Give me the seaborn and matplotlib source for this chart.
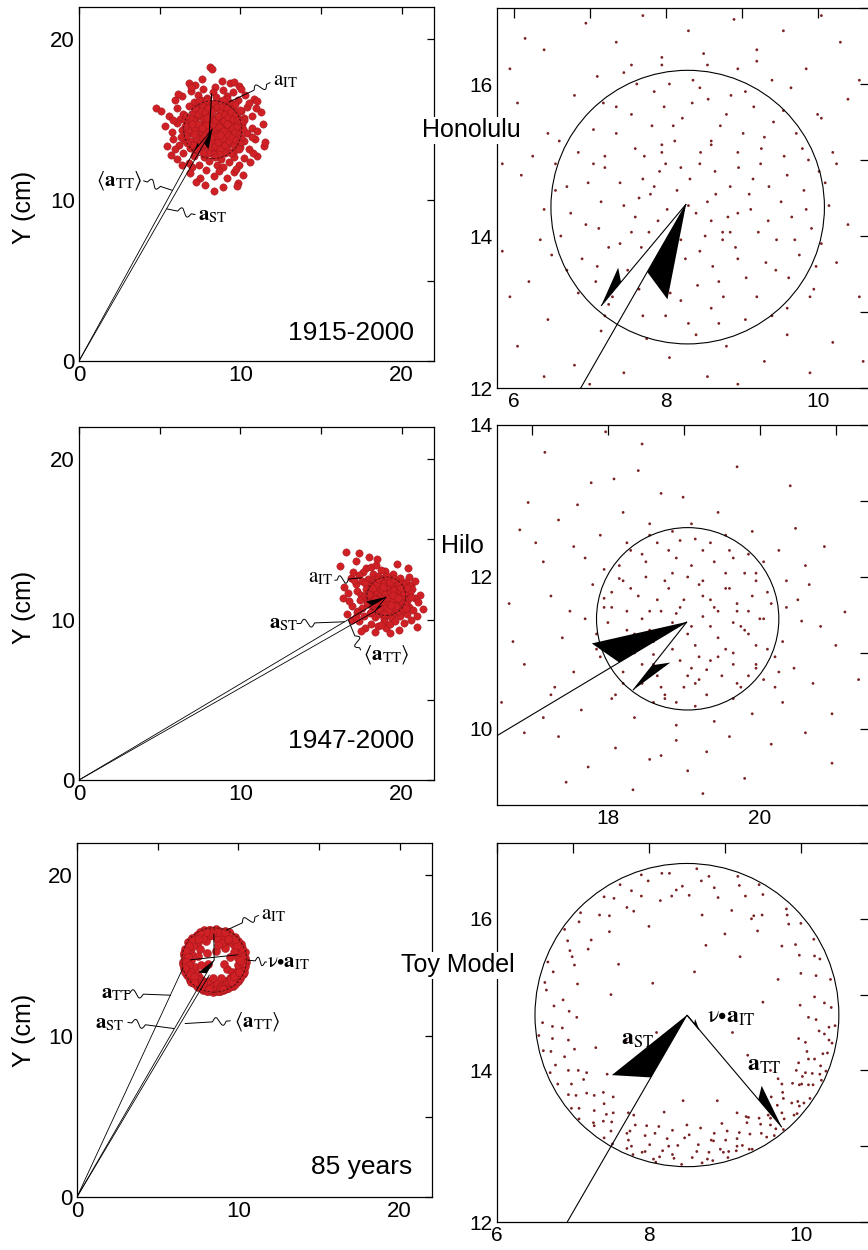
import numpy as np
import matplotlib
matplotlib.use("Agg")
import matplotlib.pyplot as plt
import seaborn as sns
from matplotlib.ticker import MultipleLocator
from matplotlib.patches import Circle

sns.set_theme(style="white")
plt.rcParams["font.family"] = ["Liberation Sans", "DejaVu Sans"]
plt.rcParams["mathtext.fontset"] = "stix"

# ---------------- data (cm) ----------------
honolulu_xy = [
    (8.10, 18.28), (8.22, 18.15), (7.65, 17.55), (8.85, 17.40), (9.35, 17.25), (7.20, 17.15), (8.40, 17.05),
    (9.90, 17.10), (6.80, 17.30),
    (6.40, 16.45), (6.95, 16.80), (7.35, 16.55), (7.70, 16.90), (7.95, 16.35), (8.30, 16.70), (8.55, 16.25),
    (8.90, 16.85), (9.20, 16.45), (9.55, 16.70), (9.85, 16.20), (10.30, 16.55), (10.85, 16.30), (11.05, 16.15),
    (7.10, 16.10), (8.05, 16.00), (9.40, 16.05), (5.95, 16.20), (10.05, 16.90), (7.55, 16.25),
    (4.80, 15.70), (5.10, 15.55), (5.60, 15.20), (6.05, 15.75), (6.45, 15.35), (6.80, 15.85), (7.05, 15.40),
    (7.35, 15.70), (7.60, 15.15), (7.85, 15.90), (8.10, 15.45), (8.35, 15.75), (8.60, 15.25), (8.80, 15.60),
    (9.05, 15.90), (9.30, 15.30), (9.55, 15.65), (9.80, 15.15), (10.05, 15.55), (10.40, 15.80), (10.70, 15.25),
    (11.30, 15.45), (7.20, 15.05), (8.95, 15.10), (6.25, 15.05), (9.65, 15.95), (7.95, 15.20), (8.45, 15.95),
    (10.20, 15.10),
    (5.30, 14.60), (5.75, 14.25), (6.10, 14.80), (6.40, 14.35), (6.70, 14.65), (6.95, 14.15), (7.20, 14.90),
    (7.45, 14.40), (7.70, 14.75), (7.90, 14.20), (8.15, 14.60), (8.40, 14.30), (8.65, 14.85), (8.85, 14.05),
    (9.10, 14.55), (9.35, 14.20), (9.60, 14.80), (9.85, 14.35), (10.10, 14.70), (10.40, 14.15), (10.75, 14.50),
    (11.40, 14.70), (8.00, 14.95), (8.55, 14.45), (9.25, 14.95), (7.55, 14.05), (6.55, 14.95), (10.25, 14.95),
    (11.05, 14.30), (8.30, 14.40), (8.60, 14.20), (7.80, 14.55), (8.85, 14.65), (8.20, 14.90),
    (5.45, 13.35), (5.85, 13.80), (6.20, 13.40), (6.50, 13.75), (6.85, 13.25), (7.10, 13.60), (7.40, 13.90),
    (7.65, 13.30), (7.90, 13.65), (8.20, 13.15), (8.45, 13.80), (8.70, 13.40), (8.95, 13.70), (9.20, 13.20),
    (9.45, 13.55), (9.70, 13.95), (9.95, 13.30), (10.25, 13.65), (10.55, 13.20), (10.90, 13.80), (11.45, 13.35),
    (11.50, 13.60), (8.60, 13.05), (7.25, 13.10), (9.60, 13.05), (6.35, 13.95), (10.70, 13.95), (8.10, 13.90),
    (8.75, 13.95),
    (6.05, 12.55), (6.45, 12.90), (6.80, 12.30), (7.15, 12.75), (7.45, 12.20), (7.75, 12.65), (8.05, 12.40),
    (8.30, 12.85), (8.55, 12.15), (8.80, 12.55), (9.05, 12.90), (9.30, 12.35), (9.60, 12.70), (9.90, 12.20),
    (10.20, 12.60), (10.60, 12.35), (7.00, 12.05), (8.95, 12.05), (5.70, 12.80), (11.00, 12.75),
    (6.90, 11.70), (7.50, 11.40), (7.90, 11.85), (8.35, 11.50), (8.70, 11.80), (9.20, 11.35), (9.60, 11.75),
    (10.15, 11.55), (7.25, 11.15), (9.85, 11.05), (9.80, 10.90),
    (8.35, 10.55), (8.90, 10.80), (7.80, 10.95),
    (7.05, 14.95), (7.15, 14.45), (7.25, 13.85), (7.35, 15.35), (7.40, 14.70), (7.50, 13.55), (7.55, 15.60),
    (7.60, 14.25), (7.62, 16.00), (7.68, 13.85), (7.72, 15.05), (7.78, 14.05), (7.82, 15.45), (7.88, 13.45),
    (7.92, 14.85), (7.98, 15.70), (8.02, 14.35), (8.06, 13.25), (8.12, 15.25), (8.16, 14.10), (8.22, 15.55),
    (8.26, 13.70), (8.32, 14.75), (8.36, 16.05), (8.42, 13.35), (8.46, 15.10), (8.52, 14.00), (8.56, 15.80),
    (8.62, 13.60), (8.66, 14.55), (8.72, 15.45), (8.76, 13.20), (8.82, 14.25), (8.86, 15.85), (8.92, 13.85),
    (8.96, 14.90), (9.02, 15.35), (9.06, 13.45), (9.12, 14.35), (9.16, 15.70), (9.22, 14.05), (9.26, 15.15),
    (9.32, 13.65), (9.36, 14.65), (9.42, 15.50), (9.46, 13.95), (9.52, 14.45), (9.56, 15.05), (9.62, 13.45),
    (9.66, 14.25), (9.72, 15.35), (9.76, 13.75), (9.82, 14.60), (9.88, 15.00), (9.92, 14.10), (9.98, 13.60),
    (10.02, 14.85), (6.75, 14.30), (6.85, 15.10), (6.90, 13.70), (6.98, 14.70), (7.08, 13.40), (7.18, 15.75),
    (7.30, 13.20), (7.45, 16.15), (7.12, 14.10), (6.62, 14.00), (6.60, 15.25), (10.00, 15.60), (9.90, 13.20),
    (9.20, 16.30), (8.00, 12.95), (8.70, 12.85), (7.70, 12.95), (8.95, 16.20), (7.95, 16.25), (8.50, 16.40),
    (8.40, 12.70), (9.40, 12.95), (7.20, 12.95), (10.15, 14.40), (6.70, 13.55), (6.55, 14.60), (10.05, 13.90),
    (7.85, 14.65), (8.45, 14.95), (8.95, 14.30), (7.65, 14.50), (9.15, 14.75), (8.20, 13.95), (8.75, 14.05),
    (7.95, 15.10), (8.60, 15.20),
    (5.95, 13.20), (6.15, 16.60), (10.55, 16.05), (10.80, 12.90), (6.40, 12.15), (9.75, 11.95), (5.85, 14.95),
    (10.95, 15.70), (6.95, 17.05), (9.60, 17.35),
]

hilo_xy = [
    (16.52, 14.18), (17.35, 14.12), (17.97, 13.91), (17.17, 13.64), (16.15, 13.35), (17.78, 13.24), (18.08, 13.29),
    (18.99, 13.05), (18.40, 13.40), (18.70, 13.10),
    (16.84, 12.62), (17.60, 12.95), (18.20, 12.85), (17.35, 12.75), (17.90, 12.55), (18.55, 12.70), (19.45, 12.85),
    (20.47, 12.64), (19.90, 12.60), (16.95, 12.98), (18.85, 12.60),
    (17.15, 12.20), (17.55, 12.40), (17.95, 12.10), (18.25, 12.45), (18.50, 12.20), (18.80, 12.35), (19.10, 12.15),
    (19.35, 12.45), (19.65, 12.25), (19.95, 12.05), (20.25, 12.35), (20.60, 12.15), (17.70, 12.25), (18.95, 12.48),
    (19.55, 12.05),
    (16.70, 11.65), (17.25, 11.75), (17.50, 11.55), (17.80, 11.90), (18.05, 11.60), (18.30, 11.85), (18.55, 11.55),
    (18.75, 11.95), (19.00, 11.70), (19.20, 11.90), (19.40, 11.60), (19.60, 11.85), (19.85, 11.55), (20.10, 11.80),
    (20.35, 11.60), (20.65, 11.90), (21.12, 11.54), (18.15, 11.98), (19.70, 11.65), (18.90, 11.52), (17.95, 11.72),
    (20.50, 11.70), (19.25, 11.75), (18.65, 11.70),
    (16.35, 11.35), (17.40, 11.20), (17.70, 11.45), (18.00, 11.05), (18.25, 11.30), (18.60, 11.15), (18.85, 11.40),
    (19.15, 11.10), (19.35, 11.35), (19.55, 11.05), (19.80, 11.30), (20.05, 11.45), (20.30, 11.15), (20.80, 11.35),
    (21.00, 11.10), (18.45, 11.45), (19.95, 11.10), (17.85, 11.25), (19.25, 11.48), (20.55, 11.42), (19.05, 11.25),
    (19.65, 11.40),
    (16.90, 10.85), (17.55, 10.75), (17.90, 10.95), (18.20, 10.60), (18.45, 10.85), (18.70, 10.55), (18.95, 10.90),
    (19.20, 10.65), (19.45, 10.95), (19.70, 10.60), (19.95, 10.85), (20.20, 10.55), (20.45, 10.80), (20.70, 10.60),
    (18.60, 10.98), (19.30, 10.78), (19.85, 10.70), (17.30, 10.55), (19.10, 10.80),
    (17.65, 10.25), (18.05, 10.40), (18.35, 10.15), (18.60, 10.35), (18.90, 10.05), (19.15, 10.30), (19.40, 10.10),
    (19.65, 10.40), (19.90, 10.20), (20.30, 10.35), (20.95, 10.20), (18.75, 10.45), (17.25, 10.45),
    (17.35, 9.90), (17.74, 9.50), (18.10, 9.75), (18.33, 9.20), (18.55, 9.60), (18.90, 9.85), (19.05, 9.45),
    (19.30, 9.70), (19.60, 9.90), (19.80, 9.35), (20.15, 9.80), (18.70, 9.65), (16.90, 9.95),
    (18.00, 11.40), (18.05, 11.80), (18.10, 11.10), (18.15, 12.15), (18.20, 10.75), (18.25, 11.55), (18.30, 12.35),
    (18.35, 11.00), (18.40, 11.75), (18.45, 10.60), (18.50, 12.00), (18.55, 11.30), (18.60, 10.85), (18.65, 12.45),
    (18.70, 11.55), (18.75, 10.40), (18.80, 11.85), (18.85, 11.05), (18.90, 12.25), (18.95, 11.60), (19.00, 10.55),
    (19.05, 12.00), (19.10, 11.35), (19.15, 12.50), (19.20, 10.95), (19.25, 11.95), (19.30, 10.45), (19.35, 11.70),
    (19.40, 12.20), (19.45, 11.20), (19.50, 10.70), (19.55, 11.85), (19.60, 12.35), (19.65, 11.00), (19.70, 11.55),
    (19.75, 10.55), (19.80, 12.05), (19.85, 11.25), (19.90, 11.75), (19.95, 10.80), (20.00, 11.45), (20.05, 12.20),
    (20.10, 11.05), (20.15, 11.65), (20.20, 10.95), (17.95, 11.60), (18.20, 11.95), (18.45, 12.30), (18.65, 10.70),
    (18.85, 12.05), (19.05, 10.70), (19.25, 12.35), (19.45, 11.55), (19.65, 10.85), (19.85, 12.30), (20.05, 10.65),
    (18.35, 11.25), (18.55, 12.55), (19.15, 10.60), (19.75, 11.35), (18.75, 11.25), (19.35, 10.90), (19.55, 12.55),
    (18.90, 10.35), (19.95, 11.95), (18.10, 10.45), (20.35, 11.95), (20.25, 10.75), (17.85, 11.05), (19.10, 12.70),
    (16.75, 11.15), (17.15, 10.15), (17.05, 12.45), (20.85, 12.40), (20.60, 9.95), (21.30, 10.65), (16.60, 10.35),
    (20.40, 13.20), (19.70, 13.45), (18.45, 13.75), (17.45, 9.30), (20.95, 9.55), (19.25, 9.15), (16.45, 12.05),
]

toy_xy = [
    (10.40, 14.83), (10.18, 14.97), (10.39, 15.20), (10.00, 15.28), (10.18, 15.51), (10.17, 15.73), (9.75, 15.64),
    (9.84, 15.93), (9.81, 16.13), (9.49, 16.05), (9.50, 16.32), (9.27, 16.30), (9.17, 16.56), (8.91, 16.28),
    (8.79, 16.56), (8.63, 16.66), (8.44, 16.43), (8.27, 16.60), (8.15, 16.24), (7.90, 16.58), (7.77, 16.37),
    (7.71, 16.15), (7.41, 16.29), (7.35, 16.05), (7.10, 16.08), (7.24, 15.72), (6.93, 15.71), (6.99, 15.50),
    (6.67, 15.43), (7.06, 15.14), (6.65, 15.06), (6.75, 14.85),
    (9.99, 14.86), (10.20, 15.25), (9.98, 15.52), (10.00, 15.94), (9.43, 15.84), (9.45, 16.45), (9.09, 16.11),
    (8.86, 16.41), (8.53, 16.31), (8.17, 16.60), (7.90, 16.30), (7.54, 16.27), (7.48, 15.83), (6.89, 15.86),
    (7.02, 15.39), (6.63, 15.16), (6.95, 14.78),
    (6.60, 14.63), (6.86, 14.56), (6.73, 14.42), (6.61, 14.26), (7.02, 14.28), (6.77, 14.07), (6.94, 14.00),
    (6.80, 13.82), (7.14, 13.88), (7.04, 13.67), (6.98, 13.50), (7.40, 13.71), (7.28, 13.47), (7.28, 13.27),
    (7.53, 13.44), (7.50, 13.20), (7.52, 13.03), (7.75, 13.20), (7.77, 13.00), (7.97, 13.27), (8.01, 13.02),
    (8.06, 12.83), (8.24, 13.10), (8.31, 12.89), (8.43, 12.76), (8.53, 13.15), (8.63, 12.93), (8.77, 12.83),
    (8.82, 13.08), (8.98, 12.92), (8.96, 13.30), (9.16, 13.10), (9.32, 12.96), (9.29, 13.31), (9.48, 13.17),
    (9.65, 13.14), (9.57, 13.41), (9.78, 13.36), (9.61, 13.65), (9.88, 13.57), (10.04, 13.57), (9.89, 13.83),
    (10.10, 13.81), (10.27, 13.87), (9.97, 14.10), (10.18, 14.15), (10.35, 14.23), (9.97, 14.42), (10.31, 14.48),
    (10.45, 14.59),
    (7.05, 14.70), (6.55, 14.46), (6.89, 14.18), (7.18, 13.97), (7.08, 13.50), (7.53, 13.65), (7.51, 13.32),
    (7.80, 13.41), (7.79, 12.89), (8.08, 13.17), (8.14, 12.86), (8.38, 13.01), (8.50, 13.28), (8.70, 12.78),
    (8.86, 13.17), (9.15, 12.94), (9.16, 13.44), (9.47, 13.29), (9.50, 13.58), (9.95, 13.43), (9.70, 13.89),
    (10.02, 13.92), (10.26, 14.06), (10.08, 14.25), (10.37, 14.40), (10.20, 14.67),
    (8.79, 12.92), (9.01, 13.08), (9.23, 13.01), (9.31, 13.38), (9.67, 13.23), (9.69, 13.54), (9.98, 13.53),
    (10.01, 13.82), (10.25, 13.95), (7.73, 13.08), (7.44, 13.42), (7.91, 12.92), (8.31, 13.21),
    (8.00, 15.90), (8.70, 16.05), (7.60, 15.40), (9.20, 15.50), (9.50, 14.90), (7.30, 14.30), (8.90, 13.60),
    (8.20, 13.45), (9.30, 14.20), (7.50, 15.00), (8.60, 15.30), (9.70, 15.20), (8.10, 14.50), (9.00, 15.80),
    (7.80, 16.10), (8.45, 13.60), (9.60, 14.00), (7.20, 15.60), (8.30, 16.30), (9.10, 14.50), (7.70, 14.40),
    (8.75, 15.65), (9.35, 16.00), (7.45, 13.95), (8.05, 15.15),
    (10.31, 14.89), (10.25, 15.47), (9.93, 15.66), (9.82, 16.05), (9.38, 16.04), (9.19, 16.44), (8.69, 16.50),
    (8.36, 16.38), (7.99, 16.50), (7.62, 16.45), (7.48, 16.04), (7.08, 15.96), (6.96, 15.58), (6.74, 15.30),
    (6.87, 14.93),
    (6.73, 14.58), (6.94, 14.40), (6.70, 13.97), (7.07, 14.00), (6.94, 13.68), (7.18, 13.70), (7.08, 13.36),
    (7.41, 13.56), (7.40, 13.33), (7.41, 13.11), (7.73, 13.44), (7.71, 13.17), (7.71, 12.97), (7.95, 13.14),
    (7.95, 12.93), (8.13, 13.26), (8.09, 12.79), (8.26, 13.00), (8.33, 12.84), (8.47, 13.11), (8.57, 12.85),
    (8.65, 13.02), (8.68, 13.24), (8.84, 12.81), (8.85, 13.07), (8.94, 12.96), (9.04, 12.85), (9.03, 13.20),
    (9.16, 13.00), (9.19, 13.18), (9.36, 12.96), (9.33, 13.16), (9.28, 13.39), (9.55, 13.12), (9.45, 13.37),
    (9.60, 13.28), (9.77, 13.22), (9.57, 13.54), (9.75, 13.44), (9.91, 13.41), (9.77, 13.63), (9.96, 13.59),
    (9.75, 13.82), (10.12, 13.63), (9.98, 13.81), (10.16, 13.81), (9.94, 14.00), (10.15, 13.96), (10.33, 13.99),
    (10.10, 14.15), (10.29, 14.22), (10.06, 14.37), (10.41, 14.36), (10.24, 14.52), (10.37, 14.57), (10.10, 14.70),
    (6.71, 14.25), (6.98, 13.82), (7.28, 13.67), (7.27, 13.31), (7.82, 13.28), (8.18, 12.94), (9.05, 12.93),
    (9.60, 13.37), (9.76, 13.71), (10.06, 13.97),
]

# vectors (cm): mean position C, tips of shorter vectors
hon_center, hon_tip = (8.27, 14.42), (7.15, 13.08)
hilo_center, hilo_tip = (19.04, 11.41), (18.33, 10.51)
toy_center, toy_tt_tip, toy_nu_tip = (8.50, 14.73), (9.75, 13.25), (8.66, 14.54)
toy_att_end, toy_mean_end = (6.55, 14.20), (8.20, 13.80)
toy_it_end, toy_nu_line = (8.48, 16.35), ((7.03, 14.74), (9.93, 15.05))
hon_it_line = ((8.05, 13.75), (8.22, 16.60))

# circles (x0, y0, r)
hon_circle, hilo_circle, toy_circle = (8.29, 14.38, 1.80), (19.05, 11.45, 1.20), (8.50, 14.73, 2.00)

# panel texts
periods = ["1915-2000", "1947-2000", "85 years"]
sites = ["Honolulu", "Hilo", "Toy Model"]
zoom_xlim = [(5.78, 10.69), (16.54, 21.45), (6.0, 10.91)]
zoom_ylim = [(12, 17), (9, 14), (12, 17)]

RED = "#cf2026"
RED_EDGE = "#9a1419"
DOT = "#7a2222"
NU_LABEL = "\u03bd" + r"$\bullet\mathbf{a}_{\mathrm{IT}}$"

fig = plt.figure(figsize=(8.68, 12.5), dpi=100)
W, H = 868.0, 1250.0


def add_axes(left, top, right, bottom):
    return fig.add_axes([left / W, 1 - bottom / H, (right - left) / W, (bottom - top) / H])


left_axes = [add_axes(79, 7, 434, 361), add_axes(79, 427, 434, 780), add_axes(77, 843, 432, 1197)]
right_axes = [add_axes(497, 8, 870, 388), add_axes(497, 425, 870, 805), add_axes(497, 843, 870, 1222)]


def style(ax, major, minor, length, size):
    ax.xaxis.set_major_locator(MultipleLocator(major))
    ax.xaxis.set_minor_locator(MultipleLocator(minor))
    ax.yaxis.set_major_locator(MultipleLocator(major))
    ax.yaxis.set_minor_locator(MultipleLocator(minor))
    ax.tick_params(which="both", direction="in", top=True, right=True, length=length, width=0.9,
                   color="black", labelsize=size, labelcolor="black", pad=3)
    for s in ax.spines.values():
        s.set_visible(True)
        s.set_color("black")
        s.set_linewidth(0.9)
    ax.set_xlabel("")
    ax.set_ylabel("")
    ax.set_facecolor("white")


def half_arrow(ax, tail, tip, inner, back, side, sign, lw=0.7):
    A = np.array(tail, float)
    B = np.array(tip, float)
    d = B - A
    u = d / np.hypot(*d)
    n = np.array([u[1], -u[0]])
    ax.plot([A[0], B[0]], [A[1], B[1]], color="black", lw=lw, zorder=4, solid_capstyle="butt")
    p_in = B - inner * u
    p_out = B - back * u + sign * side * n
    ax.fill([B[0], p_in[0], p_out[0]], [B[1], p_in[1], p_out[1]], color="black", lw=0, zorder=4)


def seg(ax, p0, p1, lw=0.7):
    ax.plot([p0[0], p1[0]], [p0[1], p1[1]], color="black", lw=lw, zorder=4)


def squiggle(ax, p_label, p_target, amp=0.25, start=0.25, wl=0.85, lw=0.7):
    p0 = np.array(p_label, float)
    p1 = np.array(p_target, float)
    d = p1 - p0
    L = np.hypot(*d)
    u = d / L
    n = np.array([-u[1], u[0]])
    s = np.linspace(0, L, 300)
    off = np.where((s > start) & (s < start + wl), amp * np.sin(2 * np.pi * (s - start) / wl), 0.0)
    pts = p0 + s[:, None] * u + off[:, None] * n
    ax.plot(pts[:, 0], pts[:, 1], color="black", lw=lw, zorder=5)


datasets = [np.array(honolulu_xy), np.array(hilo_xy), np.array(toy_xy)]
circles = [hon_circle, hilo_circle, toy_circle]
ORIGIN = (0.0, 0.0)

# ---------------- left panels ----------------
for i, ax in enumerate(left_axes):
    pts = datasets[i]
    sns.scatterplot(x=pts[:, 0], y=pts[:, 1], ax=ax, s=[28, 28, 34][i], color=RED, edgecolor=RED_EDGE,
                    linewidth=0.3, legend=False, zorder=2)
    cx, cy, r = circles[i]
    ax.add_patch(Circle((cx, cy), r, fill=False, ec="#3a1010", lw=0.6, ls=(0, (3, 2)), zorder=3))
    ax.set_xlim(0, 22)
    ax.set_ylim(0, 22)
    style(ax, 10, 5, 5, 16)
    ax.text(0.943, [0.059, 0.091, 0.065][i], periods[i], transform=ax.transAxes,
            ha="right", va="baseline", fontsize=19, color="black")

lab = dict(fontsize=15, color="black", zorder=6)
# Honolulu
ax = left_axes[0]
half_arrow(ax, ORIGIN, hon_center, 1.03, 1.21, 0.41, +1, lw=0.6)
seg(ax, ORIGIN, hon_tip, lw=0.6)
half_arrow(ax, hon_center, hon_tip, 0.41, 0.53, 0.15, +1, lw=0.6)
seg(ax, *hon_it_line, lw=0.8)
ax.text(12.0, 17.15, r"$\mathrm{a}_{\mathrm{IT}}$", ha="left", va="baseline", **lab)
squiggle(ax, (11.85, 17.3), (9.3, 16.1))
ax.text(3.95, 10.9, r"$\langle\mathbf{a}_{\mathrm{TT}}\rangle$", ha="right", va="baseline", **lab)
squiggle(ax, (4.0, 11.2), (5.8, 10.6))
ax.text(7.35, 8.75, r"$\mathbf{a}_{\mathrm{ST}}$", ha="left", va="baseline", **lab)
squiggle(ax, (7.2, 9.1), (5.45, 9.45))

# Hilo
ax = left_axes[1]
half_arrow(ax, ORIGIN, hilo_center, 1.04, 1.22, 0.40, -1, lw=0.6)
seg(ax, ORIGIN, hilo_tip, lw=0.6)
half_arrow(ax, hilo_center, hilo_tip, 0.42, 0.59, 0.16, -1, lw=0.6)
ax.text(14.2, 12.3, r"$\mathrm{a}_{\mathrm{IT}}$", ha="left", va="baseline", **lab)
squiggle(ax, (15.85, 12.45), (17.5, 12.6), start=0.15, wl=0.7)
ax.text(11.8, 9.47, r"$\mathbf{a}_{\mathrm{ST}}$", ha="left", va="baseline", **lab)
squiggle(ax, (13.5, 9.75), (16.45, 9.86))
ax.text(17.6, 7.5, r"$\langle\mathbf{a}_{\mathrm{TT}}\rangle$", ha="left", va="baseline", **lab)
squiggle(ax, (17.45, 8.1), (16.7, 9.95), start=0.15, wl=0.8)

# Toy
ax = left_axes[2]
half_arrow(ax, ORIGIN, toy_center, 0.95, 1.18, 0.46, -1, lw=0.6)
seg(ax, ORIGIN, toy_att_end, lw=0.6)
seg(ax, ORIGIN, toy_mean_end, lw=0.6)
seg(ax, toy_center, toy_it_end, lw=0.7)
seg(ax, *toy_nu_line, lw=0.7)
ax.text(11.4, 17.25, r"$\mathrm{a}_{\mathrm{IT}}$", ha="left", va="baseline", **lab)
squiggle(ax, (11.25, 17.5), (9.3, 16.6))
ax.text(11.8, 14.25, NU_LABEL, ha="left", va="baseline", family=["STIXGeneral", "DejaVu Serif"], **lab)
squiggle(ax, (11.75, 14.6), (10.6, 14.72), start=0.1, wl=0.6)
ax.text(1.5, 12.35, r"$\mathbf{a}_{\mathrm{TT}}$", ha="left", va="baseline", **lab)
squiggle(ax, (3.0, 12.65), (5.8, 12.54))
ax.text(1.1, 10.47, r"$\mathbf{a}_{\mathrm{ST}}$", ha="left", va="baseline", **lab)
squiggle(ax, (3.15, 10.85), (6.0, 10.47))
ax.text(9.7, 10.57, r"$\langle\mathbf{a}_{\mathrm{TT}}\rangle$", ha="left", va="baseline", **lab)
squiggle(ax, (9.5, 10.95), (6.7, 10.78))

for i in range(3):
    fig.text(0.028, [0.834, 0.514, 0.176][i], "Y (cm)", rotation=90, ha="center", va="center",
             fontsize=18, color="black")

# ---------------- right (zoomed) panels ----------------
for i, ax in enumerate(right_axes):
    pts = datasets[i]
    sns.scatterplot(x=pts[:, 0], y=pts[:, 1], ax=ax, s=4, color=DOT, edgecolor="none",
                    linewidth=0, legend=False, zorder=2)
    cx, cy, r = circles[i]
    ax.add_patch(Circle((cx, cy), r, fill=False, ec="black", lw=0.8, zorder=3))
    ax.set_xlim(*zoom_xlim[i])
    ax.set_ylim(*zoom_ylim[i])
    style(ax, 2, 1, 7, 15)

ax = right_axes[0]
half_arrow(ax, ORIGIN, hon_center, 1.03, 1.21, 0.41, +1, lw=0.8)
half_arrow(ax, hon_center, hon_tip, 0.41, 0.53, 0.15, +1, lw=0.8)

ax = right_axes[1]
half_arrow(ax, ORIGIN, hilo_center, 1.04, 1.22, 0.40, -1, lw=0.8)
half_arrow(ax, hilo_center, hilo_tip, 0.42, 0.59, 0.16, -1, lw=0.8)

ax = right_axes[2]
half_arrow(ax, ORIGIN, toy_center, 0.95, 1.18, 0.46, -1, lw=0.8)
half_arrow(ax, toy_center, toy_tt_tip, 0.48, 0.59, 0.15, -1, lw=0.8)
half_arrow(ax, toy_center, toy_nu_tip, 0.10, 0.14, 0.05, -1, lw=0.8)
rl = dict(fontsize=17, color="black", zorder=6)
ax.text(7.63, 14.34, r"$\mathbf{a}_{\mathrm{ST}}$", ha="left", va="baseline", **rl)
ax.text(8.76, 14.63, NU_LABEL, ha="left", va="baseline", family=["STIXGeneral", "DejaVu Serif"], **rl)
ax.text(9.29, 13.99, r"$\mathbf{a}_{\mathrm{TT}}$", ha="left", va="baseline", **rl)

# site names
for name, (x, y) in zip(sites, [(471, 130), (462, 546), (458, 965)]):
    fig.text(x / W, 1 - y / H, name, ha="center", va="center", fontsize=18, color="black", zorder=10,
             bbox=dict(facecolor="white", edgecolor="none", pad=1.0))

fig.savefig("out.png", dpi=100, facecolor="white")
